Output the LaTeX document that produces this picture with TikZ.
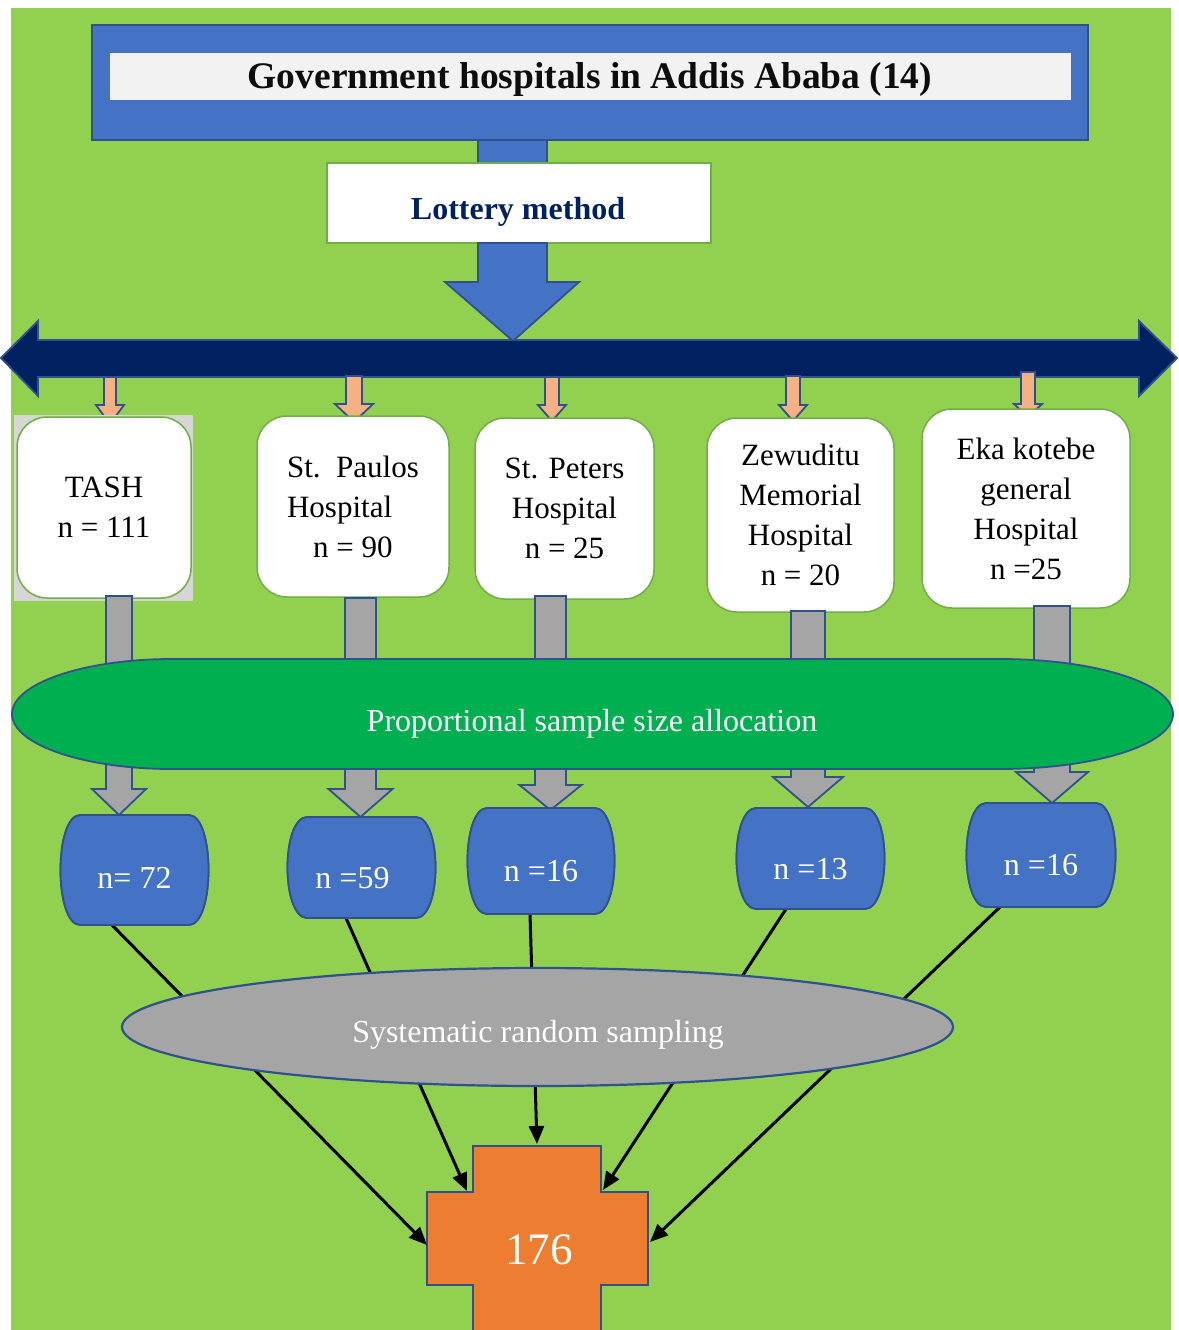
\documentclass[tikz,border=0pt]{standalone}
\usepackage{fontspec}
\setmainfont{Liberation Serif}
\usetikzlibrary{arrows.meta,shapes.geometric,calc}
\definecolor{bggreen}{HTML}{92D050}
\definecolor{accblue}{HTML}{4472C4}
\definecolor{bdrblue}{HTML}{2F528F}
\definecolor{navy}{HTML}{002060}
\definecolor{lorange}{HTML}{F4B183}
\definecolor{grayc}{HTML}{A5A5A5}
\definecolor{elgreen}{HTML}{00B050}
\definecolor{orangec}{HTML}{ED7D31}
\definecolor{boxgreen}{HTML}{70AD47}
\definecolor{band}{HTML}{F2F2F2}
\definecolor{backg}{HTML}{D6D6D6}
\tikzset{
  bdr/.style={draw=bdrblue, line width=1.8pt, line join=miter},
  hosp/.style={draw=boxgreen, fill=white, line width=1.5pt, rounded corners=30pt, inner sep=0pt, align=center, font=\fontsize{31}{40}\selectfont},
  wtxt/.style={text=white, font=\fontsize{32}{38}\selectfont, inner sep=0pt},
  blk/.style={draw=black, line width=3pt, -{Triangle[length=18pt,width=15pt]}},
  hold/.style={inner sep=0pt, outer sep=0pt}
}
\newcommand\garr[6]{\draw[bdr, fill=grayc] (#1-#2,#4) -- (#1+#2,#4) -- (#1+#2,#5) -- (#1+#3,#5) -- (#1,#6) -- (#1-#3,#5) -- (#1-#2,#5) -- cycle;}
\newcommand\oarr[6]{\draw[bdr, fill=lorange] (#1-#2,#4) -- (#1+#2,#4) -- (#1+#2,#5) -- (#1+#3,#5) -- (#1,#6) -- (#1-#3,#5) -- (#1-#2,#5) -- cycle;}
\newcommand\barrel[7]{%
  \draw[bdr, fill=accblue] (#2+20,#3) -- (#4-20,#3) .. controls (#4+6,#3+1) and (#4+6,#5-1) .. (#4-20,#5) -- (#2+20,#5) .. controls (#2-6,#5-1) and (#2-6,#3+1) .. (#2+20,#3) -- cycle;
  \node[hold, minimum width={#4-#2}, minimum height={#5-#3}] (#1) at ({(#2+#4)/2},{(#3+#5)/2}) {};
  \node[wtxt] at ($(#1.center)+(#7)$) {#6};}
\begin{document}
\begin{tikzpicture}[x=1pt,y=-1pt]
\path[use as bounding box, clip] (0,0) rectangle (1178,1330);
\fill[white] (0,0) rectangle (1178,1330);
\fill[bggreen] (11,8) rectangle (1171,1340);

% top connector
\draw[bdr, fill=accblue] (478,138) rectangle (547,165);
% top box
\node[bdr, fill=accblue, hold, minimum width=996pt, minimum height=115pt] (top) at (590,82.5) {};
\node[fill=band, hold, minimum width=961pt, minimum height=47pt] (bandn) at (590.5,76.5) {};
\node[font=\bfseries\fontsize{37.5}{40}\selectfont, text={black!95}, inner sep=0pt] (title) at (590,79) {Government hospitals in Addis Ababa (14)};
% lottery
\node[draw=boxgreen, fill=white, line width=1.5pt, hold, minimum width=384pt, minimum height=80pt] (lot) at (519,203) {};
\node[font=\bfseries\fontsize{32}{38}\selectfont, text=navy, inner sep=0pt] at (518,212) {Lottery method};
% block arrow
\draw[bdr, fill=accblue] (478,243) -- (547,243) -- (547,282) -- (579,282) -- (513,341) -- (445,282) -- (478,282) -- cycle;
% double arrow
\draw[bdr, fill=navy] (1,358) -- (38,321) -- (38,340) -- (1139,340) -- (1139,321) -- (1177,358) -- (1139,396) -- (1139,377) -- (38,377) -- (38,396) -- cycle;
% orange arrows
\oarr{110}{6}{14}{377}{405}{424}
\oarr{354}{8}{19}{376}{404}{422}
\oarr{552}{7}{14}{377}{405}{421}
\oarr{793}{7}{14}{376}{405}{421}
\oarr{1028}{7}{14}{372}{404}{417}
% hospitals
\fill[backg] (14,415) rectangle (193,601);
\node[hosp, minimum width=174pt, minimum height=181pt] (tash) at (104,507.5) {TASH\\n = 111};
\node[hosp, minimum width=192pt, minimum height=181pt, align=left] (paulos) at (353,506.5) {St.\ \ Paulos\\Hospital\\\hspace*{26pt}n = 90};
\node[hosp, minimum width=179pt, minimum height=181pt] (peters) at (564.5,508.5) {St. Peters\\Hospital\\n = 25};
\node[hosp, minimum width=187pt, minimum height=194pt] (zew) at (800.5,515) {Zewuditu\\Memorial\\Hospital\\n = 20};
\node[hosp, minimum width=208pt, minimum height=199pt] (eka) at (1026,508.5) {Eka kotebe\\general\\Hospital\\n =25};
% gray arrows
\garr{119}{13}{27}{596}{789}{815}
\garr{360.5}{15.5}{32}{598}{789}{817}
\garr{550.5}{15.5}{31}{596}{785}{810}
\garr{808}{17}{35}{611}{777}{807}
\garr{1052}{18}{36}{606}{772}{803}
% proportional allocation (flat-topped oval)
\draw[bdr, fill=elgreen] (172,659) -- (1000,659) arc[start angle=90, end angle=-90, x radius=173pt, y radius=55pt] -- (172,769) arc[start angle=270, end angle=90, x radius=160pt, y radius=55pt] -- cycle;
\node[hold, minimum width=1161pt, minimum height=110pt] (prop) at (592,714) {};
\node[wtxt] at (592,724) {Proportional sample size allocation};
% cross
\draw[bdr, fill=orangec] (473,1146) -- (601,1146) -- (601,1192) -- (648,1192) -- (648,1285) -- (601,1285) -- (601,1345) -- (473,1345) -- (473,1285) -- (427,1285) -- (427,1192) -- (473,1192) -- cycle;
\node[hold, minimum width=221pt, minimum height=93pt] (crossh) at (537.5,1238.5) {};
\node[hold, minimum width=128pt, minimum height=190pt] (crossv) at (537,1241) {};
\node[text=white, font=\fontsize{45}{50}\selectfont, inner sep=0pt] (total) at (539,1250) {176};
% barrel holders
\barrel{b1}{60}{815}{209}{925}{n= 72}{0,8}
\barrel{b2}{287}{817}{436}{918}{n =59}{-9,10.5}
\barrel{b3}{467}{808}{615}{914}{n =16}{0,10}
\barrel{b4}{736}{808}{885}{909}{n =13}{0,11}
\barrel{b5}{966}{803}{1116}{907}{n =16}{0,10}
% black connectors
\draw[blk] ($(b1.south)+(-22.5,0)$) -- ($(crossh.west)+(0,6.5)$);
\draw[blk] ($(b2.south)+(-15.5,0)$) -- ($(crossh.north west)+(40,-1)$);
\draw[blk] ($(b3.south)+(-11,0)$) -- ($(crossv.north)+(0,-2)$);
\draw[blk] ($(b4.south)+(-24.5,0)$) -- ($(crossh.north east)+(-45,-2)$);
\draw[blk] ($(b5.south)+(-41,0)$) -- ($(crossh.east)+(2,3.5)$);
% redraw barrels over line starts
\barrel{c1}{60}{815}{209}{925}{n= 72}{0,8}
\barrel{c2}{287}{817}{436}{918}{n =59}{-9,10.5}
\barrel{c3}{467}{808}{615}{914}{n =16}{0,10}
\barrel{c4}{736}{808}{885}{909}{n =13}{0,11}
\barrel{c5}{966}{803}{1116}{907}{n =16}{0,10}
% systematic ellipse
\node[ellipse, bdr, line width=2.2pt, fill=grayc, hold, minimum width=831pt, minimum height=118pt] (sys) at (537.5,1027) {};
\node[wtxt] at (538,1035) {Systematic random sampling};
\end{tikzpicture}
\end{document}
